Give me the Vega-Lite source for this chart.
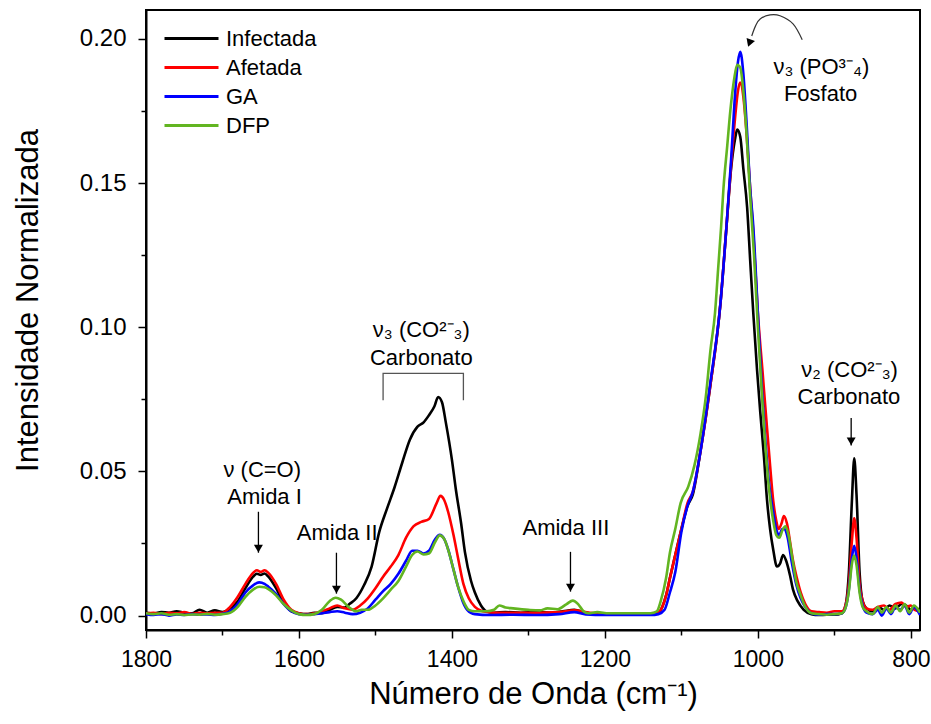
{
"$schema": "https://vega.github.io/schema/vega-lite/v6.json",
"width": 774, "height": 620,
"autosize": {"type": "none"},
"padding": {"left": 146, "top": 10, "right": 11, "bottom": 94},
"background": "white",
"config": {
  "view": {"stroke": "black", "strokeWidth": 2},
  "font": "Liberation Sans",
  "axis": {"domainColor": "black", "domainWidth": 2, "tickColor": "black", "tickWidth": 1.5, "labelColor": "black", "titleColor": "black", "labelFont": "Liberation Sans", "titleFont": "Liberation Sans", "grid": false, "titleFontWeight": "normal", "labelFlush": false, "labelOverlap": false}
},
"datasets": {
"spectra": [
{"s":"Infectada","w":1800,"v":0.0010},{"s":"Infectada","w":1790,"v":0.0008},{"s":"Infectada","w":1780,"v":0.0012},{"s":"Infectada","w":1770,"v":0.0010},{"s":"Infectada","w":1760,"v":0.0015},{"s":"Infectada","w":1750,"v":0.0010},{"s":"Infectada","w":1740,"v":0.0008},{"s":"Infectada","w":1730,"v":0.0020},{"s":"Infectada","w":1720,"v":0.0010},{"s":"Infectada","w":1710,"v":0.0018},{"s":"Infectada","w":1700,"v":0.0012},{"s":"Infectada","w":1690,"v":0.0025},{"s":"Infectada","w":1680,"v":0.0050},{"s":"Infectada","w":1670,"v":0.0095},{"s":"Infectada","w":1660,"v":0.0135},{"s":"Infectada","w":1655,"v":0.0145},{"s":"Infectada","w":1650,"v":0.0141},{"s":"Infectada","w":1645,"v":0.0146},{"s":"Infectada","w":1640,"v":0.0135},{"s":"Infectada","w":1630,"v":0.0095},{"s":"Infectada","w":1620,"v":0.0045},{"s":"Infectada","w":1610,"v":0.0015},{"s":"Infectada","w":1600,"v":0.0008},{"s":"Infectada","w":1590,"v":0.0005},{"s":"Infectada","w":1580,"v":0.0010},{"s":"Infectada","w":1570,"v":0.0008},{"s":"Infectada","w":1560,"v":0.0020},{"s":"Infectada","w":1550,"v":0.0030},{"s":"Infectada","w":1540,"v":0.0028},{"s":"Infectada","w":1534,"v":0.0040},{"s":"Infectada","w":1525,"v":0.0060},{"s":"Infectada","w":1515,"v":0.0105},{"s":"Infectada","w":1505,"v":0.0170},{"s":"Infectada","w":1495,"v":0.0290},{"s":"Infectada","w":1485,"v":0.0370},{"s":"Infectada","w":1475,"v":0.0445},{"s":"Infectada","w":1465,"v":0.0530},{"s":"Infectada","w":1455,"v":0.0610},{"s":"Infectada","w":1445,"v":0.0655},{"s":"Infectada","w":1437,"v":0.0670},{"s":"Infectada","w":1430,"v":0.0695},{"s":"Infectada","w":1423,"v":0.0725},{"s":"Infectada","w":1418,"v":0.0758},{"s":"Infectada","w":1413,"v":0.0740},{"s":"Infectada","w":1408,"v":0.0670},{"s":"Infectada","w":1400,"v":0.0540},{"s":"Infectada","w":1395,"v":0.0440},{"s":"Infectada","w":1388,"v":0.0320},{"s":"Infectada","w":1383,"v":0.0220},{"s":"Infectada","w":1375,"v":0.0120},{"s":"Infectada","w":1370,"v":0.0080},{"s":"Infectada","w":1362,"v":0.0035},{"s":"Infectada","w":1355,"v":0.0015},{"s":"Infectada","w":1345,"v":0.0010},{"s":"Infectada","w":1330,"v":0.0012},{"s":"Infectada","w":1310,"v":0.0010},{"s":"Infectada","w":1290,"v":0.0012},{"s":"Infectada","w":1270,"v":0.0010},{"s":"Infectada","w":1255,"v":0.0015},{"s":"Infectada","w":1240,"v":0.0020},{"s":"Infectada","w":1225,"v":0.0010},{"s":"Infectada","w":1200,"v":0.0005},{"s":"Infectada","w":1180,"v":0.0005},{"s":"Infectada","w":1160,"v":0.0005},{"s":"Infectada","w":1140,"v":0.0005},{"s":"Infectada","w":1130,"v":0.0010},{"s":"Infectada","w":1125,"v":0.0030},{"s":"Infectada","w":1120,"v":0.0070},{"s":"Infectada","w":1115,"v":0.0130},{"s":"Infectada","w":1108,"v":0.0210},{"s":"Infectada","w":1100,"v":0.0300},{"s":"Infectada","w":1092,"v":0.0380},{"s":"Infectada","w":1085,"v":0.0420},{"s":"Infectada","w":1075,"v":0.0570},{"s":"Infectada","w":1062,"v":0.0800},{"s":"Infectada","w":1049,"v":0.1080},{"s":"Infectada","w":1041,"v":0.1350},{"s":"Infectada","w":1035,"v":0.1550},{"s":"Infectada","w":1030,"v":0.1650},{"s":"Infectada","w":1027,"v":0.1685},{"s":"Infectada","w":1023,"v":0.1660},{"s":"Infectada","w":1019,"v":0.1550},{"s":"Infectada","w":1014,"v":0.1415},{"s":"Infectada","w":1010,"v":0.1230},{"s":"Infectada","w":1006,"v":0.1050},{"s":"Infectada","w":1001,"v":0.0850},{"s":"Infectada","w":997,"v":0.0710},{"s":"Infectada","w":992,"v":0.0550},{"s":"Infectada","w":988,"v":0.0400},{"s":"Infectada","w":984,"v":0.0300},{"s":"Infectada","w":980,"v":0.0230},{"s":"Infectada","w":975,"v":0.0170},{"s":"Infectada","w":971,"v":0.0180},{"s":"Infectada","w":967,"v":0.0210},{"s":"Infectada","w":963,"v":0.0190},{"s":"Infectada","w":958,"v":0.0140},{"s":"Infectada","w":954,"v":0.0090},{"s":"Infectada","w":948,"v":0.0050},{"s":"Infectada","w":940,"v":0.0020},{"s":"Infectada","w":930,"v":0.0005},{"s":"Infectada","w":920,"v":0.0002},{"s":"Infectada","w":910,"v":0.0003},{"s":"Infectada","w":900,"v":0.0003},{"s":"Infectada","w":890,"v":0.0008},{"s":"Infectada","w":885,"v":0.0040},{"s":"Infectada","w":881,"v":0.0150},{"s":"Infectada","w":877,"v":0.0400},{"s":"Infectada","w":874,"v":0.0545},{"s":"Infectada","w":871,"v":0.0420},{"s":"Infectada","w":867,"v":0.0150},{"s":"Infectada","w":863,"v":0.0050},{"s":"Infectada","w":858,"v":0.0025},{"s":"Infectada","w":850,"v":0.0015},{"s":"Infectada","w":843,"v":0.0030},{"s":"Infectada","w":835,"v":0.0020},{"s":"Infectada","w":828,"v":0.0035},{"s":"Infectada","w":820,"v":0.0025},{"s":"Infectada","w":812,"v":0.0040},{"s":"Infectada","w":806,"v":0.0035},{"s":"Infectada","w":800,"v":0.0020},{"s":"Infectada","w":795,"v":0.0030},{"s":"Infectada","w":788,"v":0.0015},
{"s":"Afetada","w":1800,"v":0.0008},{"s":"Afetada","w":1790,"v":0.0010},{"s":"Afetada","w":1780,"v":0.0005},{"s":"Afetada","w":1770,"v":0.0010},{"s":"Afetada","w":1760,"v":0.0008},{"s":"Afetada","w":1750,"v":0.0012},{"s":"Afetada","w":1740,"v":0.0006},{"s":"Afetada","w":1730,"v":0.0010},{"s":"Afetada","w":1720,"v":0.0008},{"s":"Afetada","w":1710,"v":0.0010},{"s":"Afetada","w":1700,"v":0.0010},{"s":"Afetada","w":1690,"v":0.0030},{"s":"Afetada","w":1680,"v":0.0065},{"s":"Afetada","w":1670,"v":0.0110},{"s":"Afetada","w":1660,"v":0.0148},{"s":"Afetada","w":1655,"v":0.0157},{"s":"Afetada","w":1650,"v":0.0152},{"s":"Afetada","w":1645,"v":0.0157},{"s":"Afetada","w":1640,"v":0.0148},{"s":"Afetada","w":1630,"v":0.0110},{"s":"Afetada","w":1620,"v":0.0055},{"s":"Afetada","w":1610,"v":0.0020},{"s":"Afetada","w":1600,"v":0.0008},{"s":"Afetada","w":1590,"v":0.0005},{"s":"Afetada","w":1580,"v":0.0008},{"s":"Afetada","w":1570,"v":0.0015},{"s":"Afetada","w":1560,"v":0.0025},{"s":"Afetada","w":1550,"v":0.0035},{"s":"Afetada","w":1540,"v":0.0025},{"s":"Afetada","w":1530,"v":0.0020},{"s":"Afetada","w":1520,"v":0.0035},{"s":"Afetada","w":1510,"v":0.0060},{"s":"Afetada","w":1500,"v":0.0095},{"s":"Afetada","w":1490,"v":0.0135},{"s":"Afetada","w":1480,"v":0.0170},{"s":"Afetada","w":1470,"v":0.0210},{"s":"Afetada","w":1460,"v":0.0270},{"s":"Afetada","w":1450,"v":0.0310},{"s":"Afetada","w":1440,"v":0.0325},{"s":"Afetada","w":1430,"v":0.0335},{"s":"Afetada","w":1420,"v":0.0390},{"s":"Afetada","w":1415,"v":0.0415},{"s":"Afetada","w":1410,"v":0.0400},{"s":"Afetada","w":1405,"v":0.0360},{"s":"Afetada","w":1398,"v":0.0280},{"s":"Afetada","w":1392,"v":0.0200},{"s":"Afetada","w":1385,"v":0.0110},{"s":"Afetada","w":1378,"v":0.0060},{"s":"Afetada","w":1370,"v":0.0030},{"s":"Afetada","w":1360,"v":0.0015},{"s":"Afetada","w":1345,"v":0.0010},{"s":"Afetada","w":1320,"v":0.0010},{"s":"Afetada","w":1290,"v":0.0010},{"s":"Afetada","w":1260,"v":0.0012},{"s":"Afetada","w":1240,"v":0.0018},{"s":"Afetada","w":1220,"v":0.0010},{"s":"Afetada","w":1200,"v":0.0008},{"s":"Afetada","w":1170,"v":0.0008},{"s":"Afetada","w":1140,"v":0.0008},{"s":"Afetada","w":1130,"v":0.0012},{"s":"Afetada","w":1125,"v":0.0030},{"s":"Afetada","w":1120,"v":0.0070},{"s":"Afetada","w":1115,"v":0.0130},{"s":"Afetada","w":1108,"v":0.0210},{"s":"Afetada","w":1100,"v":0.0300},{"s":"Afetada","w":1092,"v":0.0390},{"s":"Afetada","w":1085,"v":0.0430},{"s":"Afetada","w":1075,"v":0.0570},{"s":"Afetada","w":1062,"v":0.0800},{"s":"Afetada","w":1049,"v":0.1080},{"s":"Afetada","w":1041,"v":0.1350},{"s":"Afetada","w":1035,"v":0.1560},{"s":"Afetada","w":1030,"v":0.1720},{"s":"Afetada","w":1026,"v":0.1820},{"s":"Afetada","w":1023,"v":0.1848},{"s":"Afetada","w":1019,"v":0.1800},{"s":"Afetada","w":1015,"v":0.1680},{"s":"Afetada","w":1010,"v":0.1480},{"s":"Afetada","w":1006,"v":0.1330},{"s":"Afetada","w":1000,"v":0.1050},{"s":"Afetada","w":994,"v":0.0850},{"s":"Afetada","w":988,"v":0.0650},{"s":"Afetada","w":984,"v":0.0520},{"s":"Afetada","w":980,"v":0.0400},{"s":"Afetada","w":976,"v":0.0330},{"s":"Afetada","w":973,"v":0.0300},{"s":"Afetada","w":969,"v":0.0320},{"s":"Afetada","w":966,"v":0.0345},{"s":"Afetada","w":962,"v":0.0320},{"s":"Afetada","w":957,"v":0.0240},{"s":"Afetada","w":954,"v":0.0190},{"s":"Afetada","w":949,"v":0.0130},{"s":"Afetada","w":944,"v":0.0080},{"s":"Afetada","w":938,"v":0.0040},{"s":"Afetada","w":930,"v":0.0015},{"s":"Afetada","w":920,"v":0.0012},{"s":"Afetada","w":910,"v":0.0010},{"s":"Afetada","w":900,"v":0.0015},{"s":"Afetada","w":890,"v":0.0015},{"s":"Afetada","w":885,"v":0.0040},{"s":"Afetada","w":881,"v":0.0110},{"s":"Afetada","w":877,"v":0.0260},{"s":"Afetada","w":874,"v":0.0337},{"s":"Afetada","w":871,"v":0.0270},{"s":"Afetada","w":867,"v":0.0110},{"s":"Afetada","w":863,"v":0.0050},{"s":"Afetada","w":858,"v":0.0025},{"s":"Afetada","w":850,"v":0.0020},{"s":"Afetada","w":843,"v":0.0030},{"s":"Afetada","w":835,"v":0.0035},{"s":"Afetada","w":828,"v":0.0020},{"s":"Afetada","w":820,"v":0.0040},{"s":"Afetada","w":812,"v":0.0045},{"s":"Afetada","w":806,"v":0.0030},{"s":"Afetada","w":800,"v":0.0035},{"s":"Afetada","w":795,"v":0.0020},{"s":"Afetada","w":788,"v":0.0015},
{"s":"GA","w":1800,"v":0.0005},{"s":"GA","w":1790,"v":0.0002},{"s":"GA","w":1780,"v":0.0005},{"s":"GA","w":1770,"v":0.0000},{"s":"GA","w":1760,"v":0.0004},{"s":"GA","w":1750,"v":0.0002},{"s":"GA","w":1740,"v":0.0005},{"s":"GA","w":1730,"v":0.0003},{"s":"GA","w":1720,"v":0.0004},{"s":"GA","w":1710,"v":0.0002},{"s":"GA","w":1700,"v":0.0006},{"s":"GA","w":1690,"v":0.0015},{"s":"GA","w":1680,"v":0.0040},{"s":"GA","w":1670,"v":0.0080},{"s":"GA","w":1660,"v":0.0105},{"s":"GA","w":1652,"v":0.0115},{"s":"GA","w":1645,"v":0.0110},{"s":"GA","w":1640,"v":0.0100},{"s":"GA","w":1630,"v":0.0075},{"s":"GA","w":1620,"v":0.0040},{"s":"GA","w":1610,"v":0.0015},{"s":"GA","w":1600,"v":0.0005},{"s":"GA","w":1590,"v":0.0003},{"s":"GA","w":1580,"v":0.0005},{"s":"GA","w":1570,"v":0.0008},{"s":"GA","w":1560,"v":0.0012},{"s":"GA","w":1550,"v":0.0015},{"s":"GA","w":1540,"v":0.0010},{"s":"GA","w":1530,"v":0.0005},{"s":"GA","w":1520,"v":0.0010},{"s":"GA","w":1510,"v":0.0025},{"s":"GA","w":1500,"v":0.0055},{"s":"GA","w":1490,"v":0.0085},{"s":"GA","w":1480,"v":0.0110},{"s":"GA","w":1470,"v":0.0145},{"s":"GA","w":1460,"v":0.0190},{"s":"GA","w":1452,"v":0.0225},{"s":"GA","w":1445,"v":0.0225},{"s":"GA","w":1437,"v":0.0215},{"s":"GA","w":1430,"v":0.0225},{"s":"GA","w":1422,"v":0.0265},{"s":"GA","w":1416,"v":0.0280},{"s":"GA","w":1410,"v":0.0265},{"s":"GA","w":1405,"v":0.0230},{"s":"GA","w":1398,"v":0.0160},{"s":"GA","w":1392,"v":0.0100},{"s":"GA","w":1386,"v":0.0050},{"s":"GA","w":1380,"v":0.0020},{"s":"GA","w":1370,"v":0.0005},{"s":"GA","w":1350,"v":0.0002},{"s":"GA","w":1320,"v":0.0003},{"s":"GA","w":1290,"v":0.0002},{"s":"GA","w":1260,"v":0.0005},{"s":"GA","w":1240,"v":0.0012},{"s":"GA","w":1225,"v":0.0004},{"s":"GA","w":1200,"v":0.0002},{"s":"GA","w":1170,"v":0.0002},{"s":"GA","w":1140,"v":0.0002},{"s":"GA","w":1130,"v":0.0005},{"s":"GA","w":1122,"v":0.0020},{"s":"GA","w":1115,"v":0.0080},{"s":"GA","w":1108,"v":0.0150},{"s":"GA","w":1100,"v":0.0290},{"s":"GA","w":1092,"v":0.0380},{"s":"GA","w":1085,"v":0.0430},{"s":"GA","w":1075,"v":0.0570},{"s":"GA","w":1062,"v":0.0810},{"s":"GA","w":1049,"v":0.1080},{"s":"GA","w":1041,"v":0.1350},{"s":"GA","w":1035,"v":0.1580},{"s":"GA","w":1030,"v":0.1800},{"s":"GA","w":1026,"v":0.1920},{"s":"GA","w":1023,"v":0.1955},{"s":"GA","w":1019,"v":0.1880},{"s":"GA","w":1015,"v":0.1720},{"s":"GA","w":1010,"v":0.1480},{"s":"GA","w":1006,"v":0.1350},{"s":"GA","w":1000,"v":0.1050},{"s":"GA","w":995,"v":0.0800},{"s":"GA","w":990,"v":0.0600},{"s":"GA","w":985,"v":0.0450},{"s":"GA","w":980,"v":0.0360},{"s":"GA","w":976,"v":0.0300},{"s":"GA","w":972,"v":0.0280},{"s":"GA","w":968,"v":0.0300},{"s":"GA","w":965,"v":0.0300},{"s":"GA","w":961,"v":0.0270},{"s":"GA","w":956,"v":0.0190},{"s":"GA","w":950,"v":0.0110},{"s":"GA","w":944,"v":0.0060},{"s":"GA","w":938,"v":0.0030},{"s":"GA","w":930,"v":0.0008},{"s":"GA","w":920,"v":0.0003},{"s":"GA","w":910,"v":0.0005},{"s":"GA","w":900,"v":0.0005},{"s":"GA","w":890,"v":0.0008},{"s":"GA","w":885,"v":0.0030},{"s":"GA","w":881,"v":0.0090},{"s":"GA","w":877,"v":0.0200},{"s":"GA","w":874,"v":0.0242},{"s":"GA","w":871,"v":0.0200},{"s":"GA","w":867,"v":0.0090},{"s":"GA","w":863,"v":0.0035},{"s":"GA","w":858,"v":0.0010},{"s":"GA","w":850,"v":0.0005},{"s":"GA","w":843,"v":0.0020},{"s":"GA","w":838,"v":0.0000},{"s":"GA","w":832,"v":0.0025},{"s":"GA","w":826,"v":0.0005},{"s":"GA","w":820,"v":0.0030},{"s":"GA","w":814,"v":0.0020},{"s":"GA","w":808,"v":0.0035},{"s":"GA","w":802,"v":0.0005},{"s":"GA","w":796,"v":0.0030},{"s":"GA","w":788,"v":0.0002},
{"s":"DFP","w":1800,"v":0.0008},{"s":"DFP","w":1790,"v":0.0005},{"s":"DFP","w":1780,"v":0.0008},{"s":"DFP","w":1770,"v":0.0003},{"s":"DFP","w":1760,"v":0.0005},{"s":"DFP","w":1750,"v":0.0002},{"s":"DFP","w":1740,"v":0.0004},{"s":"DFP","w":1730,"v":0.0003},{"s":"DFP","w":1720,"v":0.0006},{"s":"DFP","w":1710,"v":0.0003},{"s":"DFP","w":1700,"v":0.0005},{"s":"DFP","w":1690,"v":0.0010},{"s":"DFP","w":1680,"v":0.0030},{"s":"DFP","w":1670,"v":0.0065},{"s":"DFP","w":1660,"v":0.0090},{"s":"DFP","w":1652,"v":0.0100},{"s":"DFP","w":1645,"v":0.0098},{"s":"DFP","w":1640,"v":0.0092},{"s":"DFP","w":1630,"v":0.0070},{"s":"DFP","w":1620,"v":0.0040},{"s":"DFP","w":1610,"v":0.0018},{"s":"DFP","w":1600,"v":0.0005},{"s":"DFP","w":1590,"v":0.0002},{"s":"DFP","w":1580,"v":0.0005},{"s":"DFP","w":1570,"v":0.0020},{"s":"DFP","w":1560,"v":0.0050},{"s":"DFP","w":1552,"v":0.0062},{"s":"DFP","w":1545,"v":0.0055},{"s":"DFP","w":1535,"v":0.0030},{"s":"DFP","w":1525,"v":0.0015},{"s":"DFP","w":1518,"v":0.0020},{"s":"DFP","w":1510,"v":0.0020},{"s":"DFP","w":1500,"v":0.0035},{"s":"DFP","w":1490,"v":0.0060},{"s":"DFP","w":1480,"v":0.0090},{"s":"DFP","w":1470,"v":0.0120},{"s":"DFP","w":1460,"v":0.0170},{"s":"DFP","w":1452,"v":0.0210},{"s":"DFP","w":1445,"v":0.0222},{"s":"DFP","w":1437,"v":0.0212},{"s":"DFP","w":1430,"v":0.0215},{"s":"DFP","w":1422,"v":0.0255},{"s":"DFP","w":1416,"v":0.0278},{"s":"DFP","w":1410,"v":0.0265},{"s":"DFP","w":1404,"v":0.0220},{"s":"DFP","w":1398,"v":0.0160},{"s":"DFP","w":1392,"v":0.0100},{"s":"DFP","w":1385,"v":0.0050},{"s":"DFP","w":1378,"v":0.0020},{"s":"DFP","w":1370,"v":0.0015},{"s":"DFP","w":1355,"v":0.0015},{"s":"DFP","w":1345,"v":0.0020},{"s":"DFP","w":1338,"v":0.0035},{"s":"DFP","w":1330,"v":0.0028},{"s":"DFP","w":1320,"v":0.0025},{"s":"DFP","w":1300,"v":0.0020},{"s":"DFP","w":1285,"v":0.0018},{"s":"DFP","w":1275,"v":0.0025},{"s":"DFP","w":1262,"v":0.0022},{"s":"DFP","w":1250,"v":0.0040},{"s":"DFP","w":1242,"v":0.0052},{"s":"DFP","w":1235,"v":0.0040},{"s":"DFP","w":1228,"v":0.0015},{"s":"DFP","w":1222,"v":0.0008},{"s":"DFP","w":1210,"v":0.0012},{"s":"DFP","w":1195,"v":0.0008},{"s":"DFP","w":1180,"v":0.0008},{"s":"DFP","w":1160,"v":0.0008},{"s":"DFP","w":1140,"v":0.0008},{"s":"DFP","w":1132,"v":0.0015},{"s":"DFP","w":1127,"v":0.0050},{"s":"DFP","w":1120,"v":0.0130},{"s":"DFP","w":1115,"v":0.0218},{"s":"DFP","w":1108,"v":0.0300},{"s":"DFP","w":1101,"v":0.0390},{"s":"DFP","w":1091,"v":0.0447},{"s":"DFP","w":1083,"v":0.0520},{"s":"DFP","w":1075,"v":0.0630},{"s":"DFP","w":1068,"v":0.0760},{"s":"DFP","w":1062,"v":0.0920},{"s":"DFP","w":1056,"v":0.1050},{"s":"DFP","w":1052,"v":0.1200},{"s":"DFP","w":1048,"v":0.1350},{"s":"DFP","w":1045,"v":0.1480},{"s":"DFP","w":1040,"v":0.1630},{"s":"DFP","w":1036,"v":0.1750},{"s":"DFP","w":1031,"v":0.1860},{"s":"DFP","w":1027,"v":0.1910},{"s":"DFP","w":1023,"v":0.1900},{"s":"DFP","w":1019,"v":0.1820},{"s":"DFP","w":1015,"v":0.1680},{"s":"DFP","w":1010,"v":0.1450},{"s":"DFP","w":1005,"v":0.1250},{"s":"DFP","w":1000,"v":0.1000},{"s":"DFP","w":995,"v":0.0780},{"s":"DFP","w":990,"v":0.0580},{"s":"DFP","w":985,"v":0.0430},{"s":"DFP","w":980,"v":0.0330},{"s":"DFP","w":976,"v":0.0280},{"s":"DFP","w":972,"v":0.0270},{"s":"DFP","w":968,"v":0.0295},{"s":"DFP","w":964,"v":0.0310},{"s":"DFP","w":960,"v":0.0280},{"s":"DFP","w":955,"v":0.0200},{"s":"DFP","w":950,"v":0.0120},{"s":"DFP","w":944,"v":0.0070},{"s":"DFP","w":938,"v":0.0030},{"s":"DFP","w":930,"v":0.0008},{"s":"DFP","w":920,"v":0.0005},{"s":"DFP","w":910,"v":0.0003},{"s":"DFP","w":900,"v":0.0005},{"s":"DFP","w":890,"v":0.0008},{"s":"DFP","w":885,"v":0.0030},{"s":"DFP","w":881,"v":0.0085},{"s":"DFP","w":877,"v":0.0180},{"s":"DFP","w":874,"v":0.0208},{"s":"DFP","w":871,"v":0.0175},{"s":"DFP","w":867,"v":0.0080},{"s":"DFP","w":863,"v":0.0030},{"s":"DFP","w":858,"v":0.0015},{"s":"DFP","w":850,"v":0.0005},{"s":"DFP","w":843,"v":0.0030},{"s":"DFP","w":838,"v":0.0010},{"s":"DFP","w":832,"v":0.0030},{"s":"DFP","w":826,"v":0.0010},{"s":"DFP","w":820,"v":0.0035},{"s":"DFP","w":814,"v":0.0015},{"s":"DFP","w":808,"v":0.0040},{"s":"DFP","w":802,"v":0.0010},{"s":"DFP","w":796,"v":0.0035},{"s":"DFP","w":788,"v":0.0010}
],
"labels": [
{"w":1648,"v":0.0505,"t":"ν (C=O)"},
{"w":1645,"v":0.0412,"t":"Amida I"},
{"w":1550,"v":0.0287,"t":"Amida II"},
{"w":1251,"v":0.0304,"t":"Amida III"},
{"w":1440,"v":0.0990,"t":"ν₃ (CO²⁻₃)"},
{"w":1440,"v":0.0893,"t":"Carbonato"},
{"w":917,"v":0.1903,"t":"ν₃ (PO³⁻₄)"},
{"w":918,"v":0.1810,"t":"Fosfato"},
{"w":880,"v":0.0851,"t":"ν₂ (CO²⁻₃)"},
{"w":881,"v":0.0758,"t":"Carbonato"}
],
"arrows": [
{"w":1653,"v":0.0360,"v2":0.0218},
{"w":1551,"v":0.0218,"v2":0.0076},
{"w":1245,"v":0.0221,"v2":0.0083},
{"w":878,"v":0.0685,"v2":0.0590}
],
"heads": [
{"w":1653,"v":0.0218},
{"w":1551,"v":0.0076},
{"w":1245,"v":0.0083},
{"w":878,"v":0.0590}
],
"bracket": [
{"i":1,"w":1490,"v":0.0747},
{"i":2,"w":1490,"v":0.0840},
{"i":3,"w":1385,"v":0.0840},
{"i":4,"w":1385,"v":0.0747}
],
"curve": [
{"i":1,"w":942,"v":0.1997},
{"i":2,"w":954,"v":0.2052},
{"i":3,"w":971,"v":0.2080},
{"i":4,"w":984,"v":0.2083},
{"i":5,"w":997,"v":0.2069},
{"i":6,"w":1003,"v":0.2045},
{"i":7,"w":1008,"v":0.2010}
],
"curvehead": [
{"w":1011,"v":0.1985}
]
},
"encoding": {
  "x": {"field": "w", "type": "quantitative",
    "scale": {"domain": [788, 1800], "reverse": true, "nice": false, "zero": false},
    "axis": {"title": "Número de Onda (cm⁻¹)", "values": [800,900,1000,1100,1200,1300,1400,1500,1600,1700,1800], "format": "d",
      "labelExpr": "datum.value % 200 === 0 ? datum.label : ''",
      "tickSize": {"condition": {"test": "datum.value % 200 === 0", "value": 8}, "value": 5},
      "labelFontSize": 23, "labelPadding": 10, "titleFontSize": 31, "titleX": 387, "titleY": 64, "titleBaseline": "middle"}},
  "y": {"field": "v", "type": "quantitative",
    "scale": {"domain": [-0.005, 0.21], "nice": false, "zero": false},
    "axis": {"title": "Intensidade Normalizada", "values": [0,0.025,0.05,0.075,0.1,0.125,0.15,0.175,0.2], "format": ".2f",
      "labelExpr": "round(datum.value*1000) % 50 === 0 ? datum.label : ''",
      "tickSize": {"condition": {"test": "round(datum.value*1000) % 50 === 0", "value": 8}, "value": 5},
      "labelFontSize": 24, "labelPadding": 12, "titleFontSize": 31, "titleX": -118, "titleY": 290, "titleAngle": -90, "titleAlign": "center", "titleBaseline": "middle"}}
},
"layer": [
  {"data": {"name": "spectra"},
   "mark": {"type": "line", "strokeWidth": 2.6, "interpolate": "monotone", "clip": true},
   "encoding": {
     "color": {"field": "s", "type": "nominal",
       "scale": {"domain": ["Infectada","Afetada","GA","DFP"], "range": ["#000000","#ff0000","#0000ff","#62b521"]},
       "legend": {"title": null, "orient": "none", "legendX": 34, "legendY": 17, "symbolType": "M-2.7,0H2.7", "symbolSize": 400, "symbolStrokeWidth": 3, "labelFontSize": 22, "labelFont": "Liberation Sans", "labelColor": "black", "labelOffset": 23, "rowPadding": 6, "padding": 0}}
   }},
  {"data": {"name": "bracket"},
   "mark": {"type": "line", "color": "#555555", "strokeWidth": 1.3},
   "encoding": {"order": {"field": "i", "type": "quantitative"}}},
  {"data": {"name": "arrows"},
   "mark": {"type": "rule", "color": "black", "strokeWidth": 1.3},
   "encoding": {"y2": {"field": "v2"}}},
  {"data": {"name": "heads"},
   "mark": {"type": "point", "shape": "triangle-down", "filled": true, "color": "black", "size": 80, "opacity": 1, "yOffset": -4},
   "encoding": {}},
  {"data": {"name": "curve"},
   "mark": {"type": "line", "color": "#333333", "strokeWidth": 1.2, "interpolate": "cardinal"},
   "encoding": {"order": {"field": "i", "type": "quantitative"}}},
  {"data": {"name": "curvehead"},
   "mark": {"type": "point", "shape": "triangle-down", "filled": true, "color": "black", "size": 80, "opacity": 1, "angle": 20},
   "encoding": {}},
  {"data": {"name": "labels"},
   "mark": {"type": "text", "font": "Liberation Sans", "fontSize": 22, "color": "black", "align": "center", "baseline": "middle"},
   "encoding": {"text": {"field": "t", "type": "nominal"}}}
]
}
